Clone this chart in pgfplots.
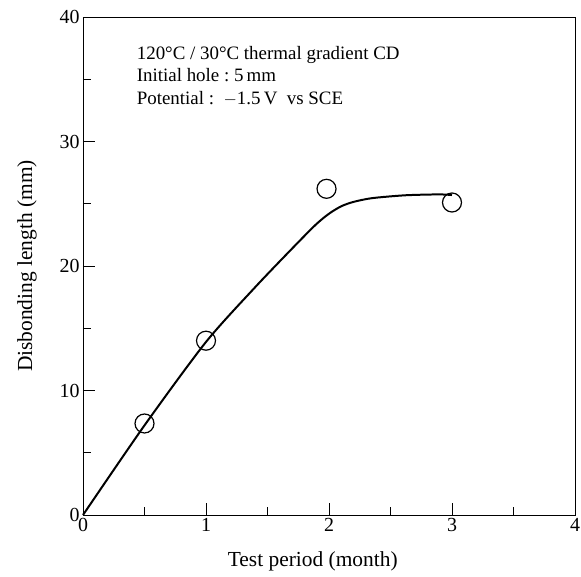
\documentclass[border=0pt]{standalone}
\usepackage{pgfplots}
\pgfplotsset{compat=1.18}
\usepackage{fontspec}
\setmainfont{Liberation Serif}
\begin{document}
\begin{tikzpicture}
\begin{axis}[
  scale only axis,
  width=492bp, height=498bp,
  xmin=0, xmax=4, ymin=0, ymax=40,
  xtick={0,1,2,3,4}, ytick={0,10,20,30,40},
  minor xtick={0.5,1.5,2.5,3.5}, minor ytick={5,15,25,35},
  tick align=inside, tick pos=left,
  major tick length=12bp, minor tick length=8bp,
  every tick/.style={black, line width=0.9pt},
  axis line style={line width=0.9pt},
  /pgf/number format/assume math mode=true,
  ticklabel style={font=\fontsize{20pt}{24pt}\selectfont},
  xlabel={Test period (month)},
  ylabel={Disbonding length (mm)},
  label style={font=\fontsize{21.5pt}{25pt}\selectfont},
  xlabel style={at={(axis description cs:0.467,-0.094)}, anchor=center},
  ylabel style={at={(axis description cs:-0.114,0.5)}, anchor=center, rotate=0},
  clip=false,
]
\addplot[black, line width=2pt, smooth, tension=0.45] coordinates {
  (0,0) (0.5,7.2) (1,13.9) (1.4,18.3) (1.7,21.4) (1.89,23.3) (2.0,24.2) (2.1,24.8) (2.2,25.15) (2.35,25.45) (2.62,25.68) (2.89,25.75) (3.0,25.7)
};
\addplot[only marks, mark=o, mark size=9.5bp, mark options={line width=1.2pt, fill=white}] coordinates {
  (0.5,7.35) (1,14.0) (1.98,26.2) (3.0,25.1)
};
\node[anchor=base west, inner sep=0pt, font=\fontsize{19pt}{22pt}\selectfont]
  at (rel axis cs:0.109,0.915) {120°C / 30°C thermal gradient CD};
\node[anchor=base west, inner sep=0pt, font=\fontsize{19pt}{22pt}\selectfont]
  at (rel axis cs:0.109,0.870) {Initial hole\ :\ 5\,mm};
\node[anchor=base west, inner sep=0pt, font=\fontsize{19pt}{22pt}\selectfont]
  at (rel axis cs:0.109,0.825) {Potential\ :\ \ $-$1.5\,V\ \ vs SCE};
\coordinate (bl) at (rel axis cs:0,0);
\coordinate (tr) at (rel axis cs:1,1);
\end{axis}
\pgfresetboundingbox
\path ([shift={(-83bp,-62bp)}]bl) rectangle ([shift={(6bp,17bp)}]tr);
\end{tikzpicture}
\end{document}
